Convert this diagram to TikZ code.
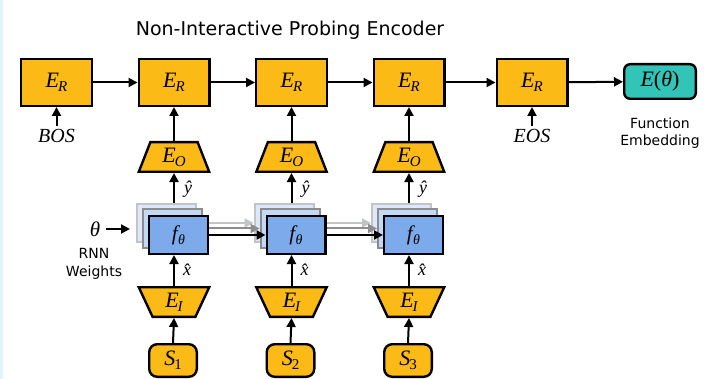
\documentclass[tikz,border=0pt]{standalone}
\usepackage{fontspec}
\setmainfont{DejaVu Sans}
\newfontfamily\tms{Liberation Serif}
\usetikzlibrary{shapes.geometric,arrows.meta,calc}
\definecolor{orng}{HTML}{FCBA16}
\definecolor{teal2}{HTML}{33C4B8}
\definecolor{fblue}{HTML}{7DAAEA}
\definecolor{mblue}{HTML}{C4D9F6}
\definecolor{lblue}{HTML}{DDE9FB}
\definecolor{lgray}{HTML}{C2C4C7}
\definecolor{mgray}{HTML}{8C8C8C}
\definecolor{strip}{HTML}{E5F4FC}
\newcommand\mE[2]{{\tms\fontsize{22}{22}\selectfont\itshape #1\kern-1pt\raisebox{-4pt}{\fontsize{15}{15}\selectfont #2}}}
\newcommand\mF{{\tms\fontsize{21}{21}\selectfont\itshape f\kern0.5pt\raisebox{-4pt}{\fontsize{14}{14}\selectfont θ}}}
\begin{document}
\begin{tikzpicture}[x=1pt,y=-1pt,
  arr/.style={line width=2pt,-{Triangle[length=9pt,width=9pt]}},
  erbox/.style={draw,line width=2.4pt,fill=orng,minimum width=70.6pt,minimum height=46.6pt,inner sep=0pt},
  embox/.style={draw,line width=2.4pt,fill=teal2,rounded corners=6pt,minimum width=71.6pt,minimum height=34.6pt,inner sep=0pt},
  trap/.style={trapezium,draw,line width=2.4pt,fill=orng,trapezium angle=73,trapezium stretches=true,minimum width=70.6pt,minimum height=29.6pt,inner sep=0pt},
  sbox/.style={draw,line width=2.4pt,fill=orng,rounded corners=8pt,minimum width=47.6pt,minimum height=32.6pt,inner sep=0pt},
  fbox/.style={draw,line width=2.4pt,fill=fblue,minimum width=58.6pt,minimum height=37.6pt,inner sep=0pt},
  fmid/.style={draw=mgray,line width=2pt,fill=mblue,minimum width=59pt,minimum height=38pt,inner sep=0pt},
  flight/.style={draw=lgray,line width=2pt,fill=lblue,minimum width=59pt,minimum height=38pt,inner sep=0pt},
  lbl/.style={inner sep=0pt,font=\fontsize{14}{17.5}\selectfont,align=center},
  mlbl/.style={inner sep=0pt,font=\tms\fontsize{20}{20}\selectfont\itshape},
  hat/.style={inner sep=0pt,font=\tms\fontsize{18}{18}\selectfont\itshape}
]
\useasboundingbox (0,0) rectangle (722,379);
\fill[strip] (0,0) rectangle (2.5,379);

\node[inner sep=0pt,font=\fontsize{19}{19}\selectfont] (title) at (290,30) {Non-Interactive Probing Encoder};

% top row
\node[erbox] (er1) at (56.5,82.5) {\mE{E}{R}};
\node[erbox] (er2) at (174,82.5) {\mE{E}{R}};
\node[erbox] (er3) at (291.5,82.5) {\mE{E}{R}};
\node[erbox] (er4) at (409,82.5) {\mE{E}{R}};
\node[erbox] (er5) at (532,82.5) {\mE{E}{R}};
\node[embox] (emb) at (660,81.5) {{\tms\fontsize{22}{22}\selectfont\itshape E\upshape(\itshape θ\upshape)}};

\draw[arr] (er1) -- (er2);
\draw[arr] (er2) -- (er3);
\draw[arr] (er3) -- (er4);
\draw[arr] (er4) -- (er5);
\draw[arr] (er5) -- (emb);

\coordinate (bosa) at (56.5,126);
\node[mlbl] (bos) at (56.5,136) {BOS};
\draw[arr] (bosa) -- (er1);
\coordinate (eosa) at (532,126);
\node[mlbl] (eos) at (532,136) {EOS};
\draw[arr] (eosa) -- (er5);

\node[lbl] (fe) at (660,133) {Function\\Embedding};

% columns
\foreach \i/\c in {1/174,2/291.5,3/409}{
  \node[trap] (eo\i) at (\c,157) {\mE{E}{O}};
  \node[flight] (fl\i) at (\c-7.5,223) {};
  \node[fmid] (fm\i) at (\c-1.5,228.5) {};
  \node[fbox] (f\i) at (\c+4.5,235) {\mF};
  \node[trap,shape border rotate=180] (ei\i) at (\c,302) {\mE{E}{I}};
  \node[sbox] (s\i) at (\c-1,360.5) {\mE{S}{\upshape\i}};
  \node[hat] (yh\i) at (\c+14,189) {ŷ};
  \node[hat] (xh\i) at (\c+13,270) {\^{x}};
}
\foreach \i/\j in {1/2,2/3,3/4}{
  \draw[arr] (eo\i.north) -- (eo\i.north |- er\j.south);
}
\foreach \i in {1,2,3}{
  \draw[arr] (eo\i.south |- fl\i.north) -- (eo\i.south);
  \draw[arr] (ei\i.north) -- (ei\i.north |- f\i.south);
  \draw[arr] (s\i.north) -- (ei\i.south);
}
\foreach \i/\j in {1/2,2/3}{
  \draw[arr,lgray] (f\i.east |- fl\i.east) -- (fl\j.west);
  \draw[arr,mgray] (f\i.east |- fm\i.east) -- (fm\j.west);
  \draw[arr] (f\i.east) -- (f\j.west);
}

% theta input
\node[inner sep=0pt,font=\tms\fontsize{21}{21}\selectfont\itshape] (th) at (95,229) {θ};
\coordinate (thstart) at (106,229);
\coordinate (thend) at (130,229);
\draw[arr] (thstart) -- (thend);
\node[lbl] (rnn) at (94,264) {RNN\\Weights};
\end{tikzpicture}
\end{document}
